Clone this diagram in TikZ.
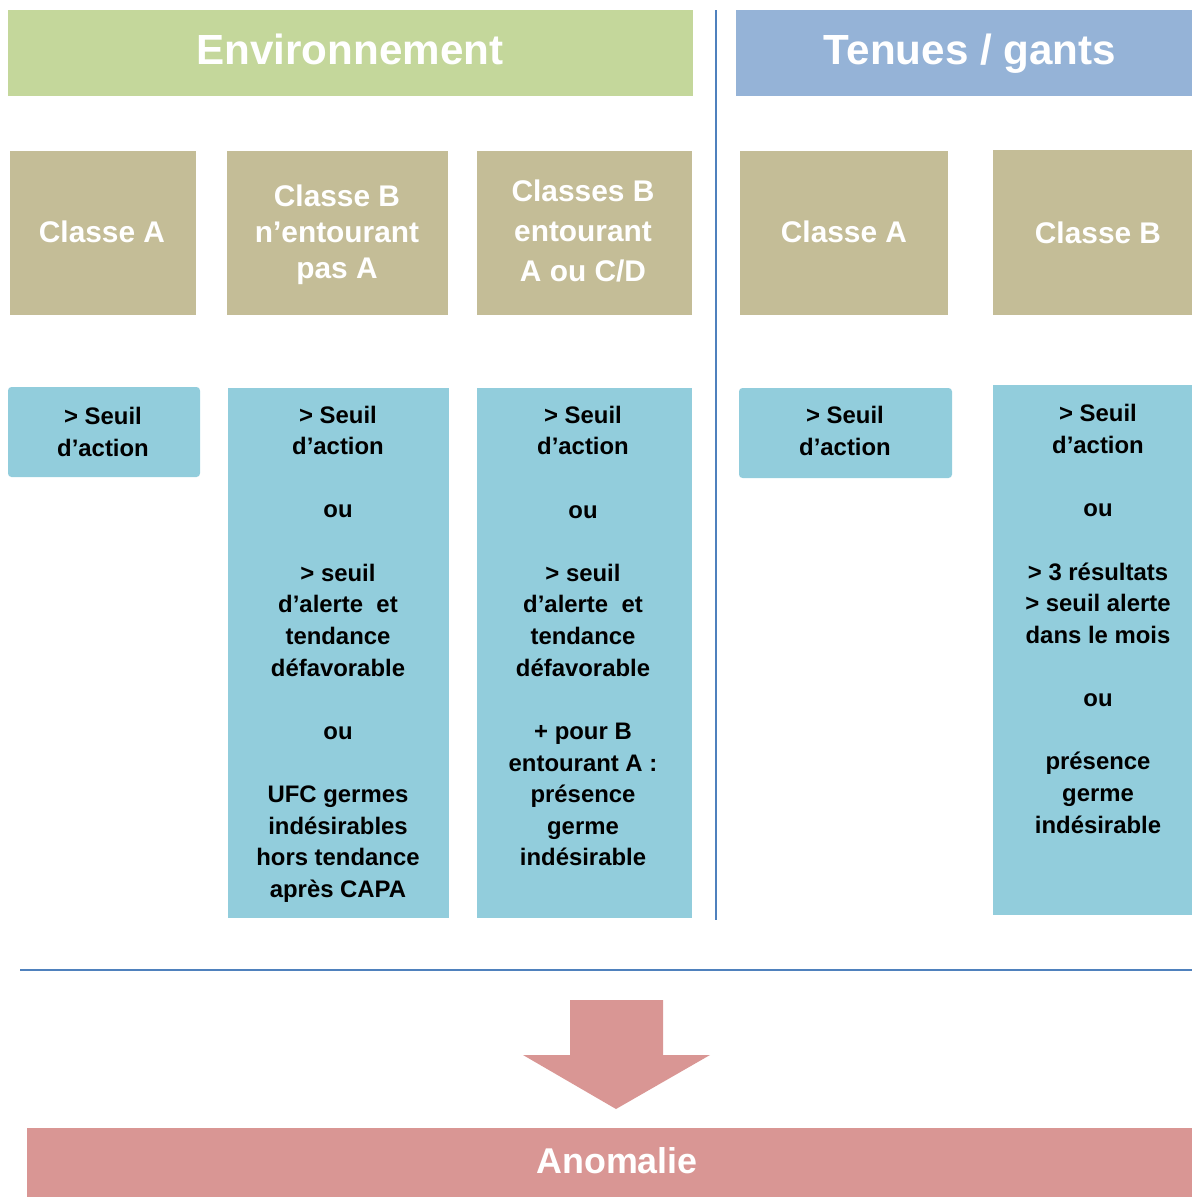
\documentclass[tikz,border=0pt]{standalone}
\usepackage{fontspec}
\setmainfont{Liberation Sans}
\definecolor{hgreen}{HTML}{C4D79B}
\definecolor{hblue}{HTML}{95B3D7}
\definecolor{tan}{HTML}{C4BD97}
\definecolor{lblue}{HTML}{92CDDC}
\definecolor{pink}{HTML}{D99694}
\definecolor{rule}{HTML}{4F81BD}
\begin{document}
\begin{tikzpicture}[x=0.02cm,y=-0.02cm,
  headtxt/.style={text=white,font=\fontsize{24}{29}\selectfont\bfseries,inner sep=0pt},
  tantxt/.style={text=white,font=\fontsize{17}{20.6}\selectfont\bfseries,align=center,inner sep=0pt},
  bluetxt/.style={text=black,font=\fontsize{13.6}{18}\selectfont\bfseries,align=center,inner sep=0pt},
  rulestyle/.style={draw=rule,line width=1.6pt}]
\useasboundingbox (0,0) rectangle (1192,1197);
% headers
\fill[hgreen] (8,10) rectangle (693,96);
\fill[hblue] (736,10) rectangle (1192,96);
\node[headtxt,anchor=base] (env) at (350,64) {Environnement};
\node[headtxt,anchor=base] (ten) at (970,64) {Tenues / gants};
% separators
\coordinate (vtop) at (716,10);
\coordinate (vbot) at (716,920);
\draw[rulestyle,line width=1.3pt] (vtop) -- (vbot);
\coordinate (hl) at (20,970);
\coordinate (hr) at (1192,970);
\draw[rulestyle] (hl) -- (hr);
% tan boxes
\fill[tan] (10,151) rectangle (196,315);
\fill[tan] (227,151) rectangle (448,315);
\fill[tan] (477,151) rectangle (692,315);
\fill[tan] (740,151) rectangle (948,315);
\fill[tan] (993,150) rectangle (1192,315);
\node[tantxt] (t1) at (102,232) {Classe A};
\node[tantxt] (t2) at (337,235) {Classe B\\n’entourant\\pas A};
\node[tantxt,font=\fontsize{17}{23}\selectfont\bfseries] (t3) at (583,231) {Classes B\\entourant\\A ou C/D};
\node[tantxt] (t4) at (844,232) {Classe A};
\node[tantxt] (t5) at (1098,233) {Classe B};
% blue boxes
\fill[lblue,rounded corners=2] (8,387) rectangle (200,477);
\fill[lblue] (228,388) rectangle (449,918);
\fill[lblue] (477,388) rectangle (692,918);
\fill[lblue,rounded corners=2] (739,388) rectangle (952,478);
\fill[lblue] (993,385) rectangle (1192,915);
\node[bluetxt] (b1) at (103,432) {> Seuil\\d’action};
\node[bluetxt] (b2) at (338,654) {> Seuil\\d’action\\~\\ou\\~\\> seuil\\d’alerte~~et\\tendance\\défavorable\\~\\ou\\~\\UFC germes\\indésirables\\hors tendance\\après CAPA};
\node[bluetxt] (b3) at (583,636) {> Seuil\\d’action\\~\\ou\\~\\> seuil\\d’alerte~~et\\tendance\\défavorable\\~\\+ pour B\\entourant A :\\présence\\germe\\indésirable};
\node[bluetxt] (b4) at (845,431) {> Seuil\\d’action};
\node[bluetxt] (b5) at (1098,619) {> Seuil\\d’action\\~\\ou\\~\\> 3 résultats\\> seuil alerte\\dans le mois\\~\\ou\\~\\présence\\germe\\indésirable};
% arrow
\fill[pink] (570,1000) -- (663,1000) -- (663,1055) -- (710,1055) -- (616,1109) -- (523,1055) -- (570,1055) -- cycle;
% anomalie
\fill[pink] (27,1128) rectangle (1192,1197);
\node[headtxt,anchor=base,font=\fontsize{20.4}{24}\selectfont\bfseries] (ano) at (617,1173) {Anomalie};
\end{tikzpicture}
\end{document}
